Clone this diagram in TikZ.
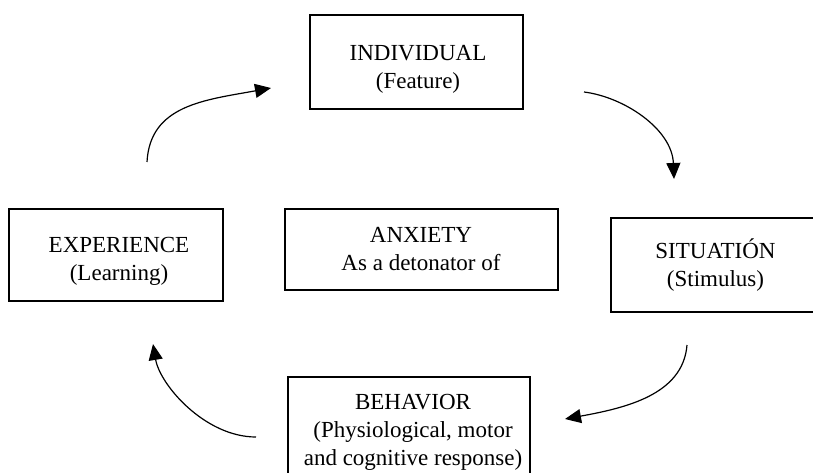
\documentclass[tikz,border=0pt]{standalone}
\usepackage{fontspec}
\setmainfont{Liberation Serif}
\usetikzlibrary{arrows.meta}
\begin{document}
\begin{tikzpicture}[x=1pt,y=-1pt,
  box/.style={draw=black,line width=2.2pt,inner sep=0pt},
  txt/.style={align=center,inner sep=0pt,font=\fontsize{23}{28}\selectfont},
  arr/.style={line width=1.2pt,-{Triangle[length=16pt,width=14pt]}}]
\useasboundingbox (0,0) rectangle (813,473);
% boxes
\node[box,minimum width=213pt,minimum height=94pt] (ind) at (416.5,62) {};
\node[box,minimum width=213.4pt,minimum height=92pt] (exp) at (116,255) {};
\node[box,minimum width=272.7pt,minimum height=81pt] (anx) at (421.4,249.5) {};
\node[box,minimum width=209pt,minimum height=93.4pt] (sit) at (715.5,265) {};
\node[box,minimum width=241.7pt,minimum height=105pt] (beh) at (409.2,429.8) {};
% texts
\node[txt] (indt) at (418,69.5) {INDIVIDUAL\\(Feature)};
\node[txt] (expt) at (119,261) {EXPERIENCE\\(Learning)};
\node[txt] (anxt) at (421,249.5) {ANXIETY\\As a detonator of};
\node[txt] (sitt) at (715.5,265) {SITUATIÓN\\(Stimulus)};
\node[txt] (beht) at (413,432.5) {BEHAVIOR\\ (Physiological, motor\\and cognitive response)};
% arrow end points
\coordinate (a1s) at (147,162);
\coordinate (a1e) at (271,88);
\coordinate (a2s) at (584,92);
\coordinate (a2e) at (674,179);
\coordinate (a3s) at (687,345);
\coordinate (a3e) at (565,419);
\coordinate (a4s) at (256,437);
\coordinate (a4e) at (153,344);
% arrows
\draw[arr] (a1s) .. controls (150,105) and (205,100) .. (a1e);
\draw[arr] (a2s) .. controls (624,97) and (672,129) .. (a2e);
\draw[arr] (a3s) .. controls (683,395) and (625,408) .. (a3e);
\draw[arr] (a4s) .. controls (205,437) and (160,385) .. (a4e);
\end{tikzpicture}
\end{document}
